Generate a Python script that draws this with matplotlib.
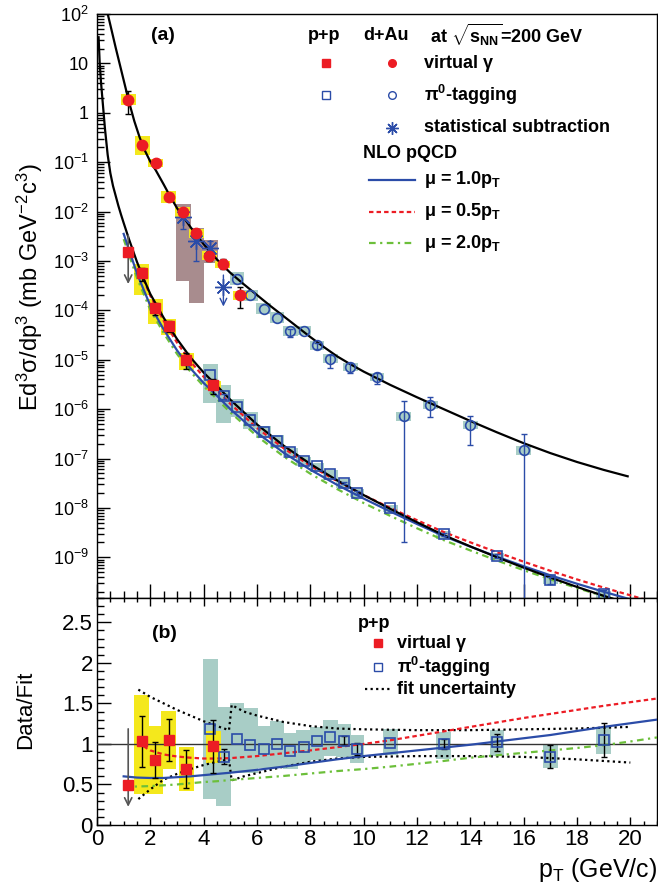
import numpy as np
import matplotlib
matplotlib.use("Agg")
import matplotlib.pyplot as plt
from matplotlib.patches import Rectangle
from matplotlib.ticker import MultipleLocator, FixedLocator, LogLocator, NullFormatter, FixedFormatter, FormatStrFormatter

plt.rcParams['font.family'] = ['Liberation Sans', 'DejaVu Sans']
plt.rcParams['mathtext.fontset'] = 'custom'
plt.rcParams['mathtext.rm'] = 'Liberation Sans'
plt.rcParams['mathtext.it'] = 'Liberation Sans:italic'
plt.rcParams['mathtext.bf'] = 'Liberation Sans:bold'

# ---------------- data ----------------
# p+p virtual photon (first point is an upper limit)
pp_vg_pt = [1.17, 1.67, 2.19, 2.69, 3.34, 4.36]
pp_vg_y = [1.5e-3, 5.6e-4, 1.12e-4, 4.9e-5, 1.0e-5, 3.1e-6]
pp_vg_ratio = [0.49, 1.03, 0.80, 1.05, 0.69, 0.97]
pp_vg_relerr = [0.0, 0.30, 0.28, 0.25, 0.34, 0.34]
pp_vg_sys_lo = [np.nan, 0.38, 0.38, 0.69, 0.42, 0.77]   # box edges in Data/Fit
pp_vg_sys_hi = [np.nan, 1.60, 1.22, 1.41, 0.96, 1.16]
pp_ul_top = [3.8e-3, 3.0e-4]
pp_ul_ratio = [1.22, 0.19]

# p+p pi0-tagging
pp_pi0_pt = [4.25, 4.75, 5.25, 5.75, 6.25, 6.75, 7.25, 7.75, 8.25, 8.75, 9.25, 9.75, 11.0, 13.0, 15.0, 17.0, 19.0]
pp_pi0_y = [4.8e-6, 1.82e-6, 1.13e-6, 6.1e-7, 3.5e-7, 2.3e-7, 1.33e-7, 8.9e-8, 6.9e-8, 4.8e-8, 3.2e-8, 2.04e-8,
            9.9e-9, 2.9e-9, 1.07e-9, 3.4e-10, 1.8e-10]
pp_pi0_ratio = [1.18, 0.84, 1.06, 0.99, 0.94, 1.00, 0.91, 0.96, 1.03, 1.09, 1.04, 0.94, 1.01, 1.00, 1.02, 0.84, 1.05]
pp_pi0_relerr = [0.0, 0.11, 0.0, 0.0, 0.0, 0.0, 0.0, 0.0, 0.0, 0.0, 0.055, 0.08, 0.0, 0.06, 0.10, 0.17, 0.20]
pp_pi0_sys_lo = [0.32, 0.24, 0.64, 0.64, 0.70, 0.70, 0.69, 0.75, 0.80, 0.85, 0.84, 0.77, 0.86, 0.82, 0.85, 0.70, 0.88]
pp_pi0_sys_hi = [2.05, 1.45, 1.50, 1.44, 1.22, 1.28, 1.13, 1.17, 1.21, 1.30, 1.24, 1.11, 1.19, 1.15, 1.17, 0.99, 1.21]

# d+Au virtual photon
dau_vg_pt = [1.17, 1.69, 2.20, 2.69, 3.21, 3.72, 4.21, 4.72, 5.37]
dau_vg_y = [1.83, 0.22, 0.095, 0.0195, 0.0096, 0.0036, 0.00127, 8.5e-4, 2.0e-4]
dau_vg_err_lo = [0.90, 0.0, 0.0, 0.0, 0.0, 0.0, 0.00025, 1.7e-4, 0.9e-4]
dau_vg_err_hi = [0.87, 0.0, 0.0, 0.0, 0.0, 0.0, 0.00025, 2.7e-4, 1.0e-4]
dau_vg_sys = [0.29, 0.55, 0.20, 0.32, 0.26, 0.23, 0.23, 0.17, 0.26]

# d+Au pi0-tagging
dau_pi0_pt = [5.25, 5.75, 6.25, 6.75, 7.25, 7.75, 8.25, 8.75, 9.5, 10.5, 11.5, 12.5, 14.0, 16.0]
dau_pi0_y = [4.4e-4, 2.0e-4, 1.09e-4, 7.1e-5, 3.8e-5, 3.9e-5, 1.95e-5, 1.05e-5, 7.2e-6, 4.4e-6, 7.1e-7, 1.23e-6,
             4.7e-7, 1.48e-7]
dau_pi0_err_lo = [0, 0, 0, 0, 8.5e-6, 0, 3e-6, 3.7e-6, 1.8e-6, 1.2e-6, 7.08e-7, 5.4e-7, 2.8e-7, 1.479e-7]
dau_pi0_err_hi = [0, 0, 0, 0, 3e-6, 0, 2e-6, 2.1e-6, 1.3e-6, 1.1e-6, 7.3e-7, 5.3e-7, 2.7e-7, 1.72e-7]
dau_pi0_sys = [0.35, 0.32, 0.30, 0.30, 0.28, 0.25, 0.25, 0.25, 0.22, 0.20, 0.23, 0.20, 0.20, 0.23]

# d+Au statistical subtraction
star_pt = [3.24, 3.72, 4.24]
star_y = [7.6e-3, 2.5e-3, 1.86e-3]
star_err_lo = [3.2e-3, 1.5e-3, 0.51e-3]
star_err_hi = [2.1e-3, 1.3e-3, 0.64e-3]
star_ul_pt = 4.74
star_ul_y = 2.95e-4
star_ul_range = [5.9e-4, 1.05e-4]
star_sys_pt = [3.24, 3.74, 4.27]
star_sys_lo = [4.0e-4, 1.38e-4, 9.1e-4]
star_sys_hi = [1.4e-2, 4.7e-3, 2.6e-3]

# fits (log10 of Ed3sigma/dp3)
pp_fit_pt = [0.06, 0.1, 0.15, 0.2, 0.3, 0.4, 0.5, 0.6, 0.7, 0.8, 0.9, 1.0, 1.2, 1.5, 1.75, 2.0, 2.5, 3.0, 3.5,
             4.0, 4.5, 5.0, 6, 7, 8, 9, 10, 11, 12, 13, 14, 15, 16, 17, 18, 19, 20, 21]
pp_fit_log = [1.53, 1.02, 0.62, 0.30, -0.33, -0.85, -1.22, -1.48, -1.68, -1.88, -2.06, -2.23, -2.56, -3.02, -3.36,
              -3.67, -4.15, -4.58, -4.95, -5.26, -5.53, -5.81, -6.31, -6.74, -7.11, -7.44, -7.74, -8.02, -8.29,
              -8.55, -8.78, -9.00, -9.21, -9.41, -9.60, -9.78, -9.95, -10.12]
dau_fit_pt = [0.38, 0.5, 0.6, 0.7, 0.8, 0.9, 1.0, 1.2, 1.4, 1.6, 1.8, 2.0, 2.2, 2.5, 2.7, 3.0, 3.2, 3.5, 3.7,
              4.0, 4.2, 4.5, 4.7, 5.0, 5.5, 6.0, 6.5, 7.0, 7.5, 8.0, 8.5, 9.0, 9.5, 10, 11, 12, 13, 14, 15, 16,
              17, 18, 19, 19.9]
dau_fit_log = [2.05, 1.78, 1.55, 1.32, 1.10, 0.88, 0.66, 0.22, -0.17, -0.50, -0.77, -0.99, -1.16, -1.45, -1.65,
               -1.93, -2.08, -2.31, -2.45, -2.66, -2.79, -2.97, -3.08, -3.24, -3.47, -3.69, -3.91, -4.12, -4.33,
               -4.54, -4.74, -4.93, -5.09, -5.24, -5.51, -5.76, -6.00, -6.24, -6.47, -6.69, -6.89, -7.07, -7.23,
               -7.36]

# NLO pQCD / fit
nlo_pt = [1.0, 1.5, 2.0, 2.5, 3.0, 3.5, 4.0, 4.5, 5.0, 6, 7, 8, 9, 10, 11, 12, 13, 14, 15, 16, 17, 18, 19, 20, 21]
nlo10_ratio = [0.60, 0.585, 0.58, 0.58, 0.59, 0.60, 0.615, 0.63, 0.645, 0.68, 0.72, 0.765, 0.81, 0.85, 0.885, 0.92,
               0.955, 0.99, 1.03, 1.07, 1.11, 1.16, 1.21, 1.255, 1.30]
nlo20_ratio = [0.47, 0.475, 0.48, 0.49, 0.50, 0.515, 0.53, 0.54, 0.555, 0.58, 0.605, 0.635, 0.665, 0.69, 0.72,
               0.755, 0.79, 0.83, 0.86, 0.89, 0.92, 0.95, 0.985, 1.03, 1.08]
nlo05_pt = [1.75, 2.0, 2.5, 3.0, 3.5, 4.0, 4.5, 5.0, 6, 7, 8, 9, 10, 11, 12, 13, 14, 15, 16, 17, 18, 19, 20, 21]
nlo05_ratio = [0.97, 0.92, 0.87, 0.845, 0.83, 0.82, 0.82, 0.825, 0.85, 0.885, 0.92, 0.96, 1.0, 1.045, 1.10, 1.155,
               1.21, 1.265, 1.32, 1.37, 1.42, 1.47, 1.515, 1.56]

# fit uncertainty band
unc_pt = [1.55, 2.0, 2.5, 3.0, 3.5, 4.0, 4.5, 4.95, 5.05, 5.5, 6, 7, 8, 9, 10, 12, 14, 16, 18, 20]
unc_hi = [1.67, 1.58, 1.50, 1.42, 1.35, 1.28, 1.22, 1.17, 1.48, 1.40, 1.35, 1.27, 1.22, 1.19, 1.18, 1.17, 1.17,
          1.18, 1.19, 1.21]
unc_lo = [0.32, 0.44, 0.56, 0.63, 0.69, 0.74, 0.78, 0.81, 0.55, 0.60, 0.64, 0.72, 0.78, 0.82, 0.84, 0.85, 0.85,
          0.84, 0.81, 0.77]

# ---------------- style ----------------
RED = '#ec1c24'
BLUE = '#2b4ca8'
GREEN = '#6cbf3a'
YELLOW = '#f4e81c'
TEAL = '#a8cdc6'
MAUVE = '#a88c8e'
GREY = '#555555'
HALF = 0.28

W, H = 658, 890
fig = plt.figure(figsize=(W / 100, H / 100), dpi=100)
ax1 = fig.add_axes([97 / W, 1 - 598 / H, 560 / W, 584 / H])
ax2 = fig.add_axes([97 / W, 1 - 825 / H, 560 / W, 227 / H])


def px(x, y):
    return x / W, 1 - y / H


def boxes(ax, xs, lo, hi, color, z=1):
    for x, l, h in zip(xs, lo, hi):
        if np.isnan(l):
            continue
        ax.add_patch(Rectangle((x - HALF, l), 2 * HALF, h - l, facecolor=color, edgecolor='none', zorder=z))


def errbars(ax, xs, ys, lo, hi, color, z):
    xs, ys, lo, hi = (np.asarray(v, dtype=float) for v in (xs, ys, lo, hi))
    m = (lo > 0) | (hi > 0)
    ax.errorbar(xs[m], ys[m], yerr=[lo[m], hi[m]], fmt='none', ecolor=color, elinewidth=1, capsize=2, zorder=z)


fit_lookup = dict(zip(pp_fit_pt, pp_fit_log))
pp_vg_y = np.array(pp_vg_y)
pp_vg_ratio = np.array(pp_vg_ratio)
pp_pi0_y = np.array(pp_pi0_y)
pp_pi0_ratio = np.array(pp_pi0_ratio)

# ---------------- panel (a) ----------------
ax = ax1
ax.set_yscale('log')
boxes(ax, pp_pi0_pt, pp_pi0_y * np.array(pp_pi0_sys_lo) / pp_pi0_ratio,
      pp_pi0_y * np.array(pp_pi0_sys_hi) / pp_pi0_ratio, TEAL)
dy = np.array(dau_pi0_y)
ds = np.array(dau_pi0_sys)
boxes(ax, dau_pi0_pt, dy / (1 + ds), dy * (1 + ds), TEAL)
boxes(ax, star_sys_pt, star_sys_lo, star_sys_hi, MAUVE)
boxes(ax, pp_vg_pt, pp_vg_y * np.array(pp_vg_sys_lo) / pp_vg_ratio,
      pp_vg_y * np.array(pp_vg_sys_hi) / pp_vg_ratio, YELLOW, z=2)
dy = np.array(dau_vg_y)
ds = np.array(dau_vg_sys)
boxes(ax, dau_vg_pt, dy / (1 + ds), dy * (1 + ds), YELLOW, z=2)

nlo10_top = [10 ** fit_lookup[p] * r for p, r in zip(nlo_pt, nlo10_ratio)]
nlo20_top = [10 ** fit_lookup[p] * r for p, r in zip(nlo_pt, nlo20_ratio)]
nlo05_top = [10 ** fit_lookup[p] * r for p, r in zip(nlo05_pt, nlo05_ratio)]
ax.plot(nlo_pt, nlo20_top, color=GREEN, lw=1.6, dashes=(3, 2, 1, 2), zorder=3)
ax.plot(nlo05_pt, nlo05_top, color=RED, lw=1.6, dashes=(2, 1.4), zorder=3)
ax.plot(nlo_pt, nlo10_top, color=BLUE, lw=1.6, zorder=3)
ax.plot(pp_fit_pt, 10 ** np.array(pp_fit_log), color='k', lw=1.6, zorder=4)
ax.plot(dau_fit_pt, 10 ** np.array(dau_fit_log), color='k', lw=1.6, zorder=4)

# p+p pi0
e = pp_pi0_y * np.array(pp_pi0_relerr)
errbars(ax, pp_pi0_pt, pp_pi0_y, e, e, BLUE, 5)
ax.plot(pp_pi0_pt, pp_pi0_y, 's', ms=6.5, mfc='none', mec=BLUE, mew=1.2, zorder=6)
# d+Au pi0
errbars(ax, dau_pi0_pt, dau_pi0_y, dau_pi0_err_lo, dau_pi0_err_hi, BLUE, 5)
ax.plot(dau_pi0_pt, dau_pi0_y, 'o', ms=7, mfc='none', mec=BLUE, mew=1.2, zorder=6)
# statistical subtraction
errbars(ax, star_pt, star_y, star_err_lo, star_err_hi, BLUE, 5)
ax.plot(star_pt + [star_ul_pt], star_y + [star_ul_y], ls='none', marker=(8, 2, 0), ms=12, mec=BLUE, mew=1.0,
        zorder=6)
ax.annotate('', xy=(star_ul_pt, star_ul_range[1]), xytext=(star_ul_pt, star_ul_range[0]),
            arrowprops=dict(arrowstyle='->', color=BLUE, lw=1.0, mutation_scale=12), zorder=5)
# p+p virtual photon
e = pp_vg_y * np.array(pp_vg_relerr)
errbars(ax, pp_vg_pt, pp_vg_y, e, e, 'k', 7)
ax.annotate('', xy=(pp_vg_pt[0], pp_ul_top[1]), xytext=(pp_vg_pt[0], pp_ul_top[0]),
            arrowprops=dict(arrowstyle='->', color=GREY, lw=1.2, mutation_scale=13), zorder=7)
ax.plot(pp_vg_pt, pp_vg_y, 's', ms=6.5, color=RED, zorder=8)
# d+Au virtual photon
errbars(ax, dau_vg_pt, dau_vg_y, dau_vg_err_lo, dau_vg_err_hi, 'k', 7)
ax.plot(dau_vg_pt, dau_vg_y, 'o', ms=7.5, color=RED, zorder=8)

ax.set_xlim(0, 21)
ax.set_ylim(1.5e-10, 100)
ax.xaxis.set_major_locator(MultipleLocator(2))
ax.xaxis.set_minor_locator(MultipleLocator(0.5))
ax.set_xticklabels([])
dec = list(range(2, -10, -1))
ax.yaxis.set_major_locator(FixedLocator([10.0 ** d for d in dec]))
ax.yaxis.set_major_formatter(FixedFormatter(['$10^{%d}$' % d if d not in (0, 1) else str(10 ** d) for d in dec]))
ax.yaxis.set_minor_locator(LogLocator(base=10, subs=np.arange(2, 10), numticks=30))
ax.yaxis.set_minor_formatter(NullFormatter())
ax.tick_params(axis='both', which='both', direction='in', top=False, right=False)
ax.tick_params(axis='x', which='major', length=10, width=1)
ax.tick_params(axis='x', which='minor', length=5, width=1)
ax.tick_params(axis='y', which='major', length=9.5, width=1, labelsize=13, pad=6)
ax.tick_params(axis='y', which='minor', length=5, width=1)
ax.set_ylabel(r'Ed$^{3}$σ/dp$^{3}$ (mb GeV$^{-2}$c$^{3}$)', fontsize=17, va='center')
ax.yaxis.set_label_coords(-0.12, 0.533)

# ---------------- panel (b) ----------------
ax = ax2
boxes(ax, pp_pi0_pt, pp_pi0_sys_lo, pp_pi0_sys_hi, TEAL)
boxes(ax, pp_vg_pt, pp_vg_sys_lo, pp_vg_sys_hi, YELLOW, z=2)
ax.axhline(1.0, color='#333333', lw=1.0, zorder=3)
ax.plot(unc_pt, unc_hi, color='k', lw=1.6, ls=(0, (1, 1.5)), zorder=4)
ax.plot(unc_pt, unc_lo, color='k', lw=1.6, ls=(0, (1, 1.5)), zorder=4)
ax.plot(nlo_pt, nlo20_ratio, color=GREEN, lw=1.6, dashes=(3, 2, 1, 2), zorder=4)
ax.plot(nlo05_pt, nlo05_ratio, color=RED, lw=1.6, dashes=(2, 1.4), zorder=4)
ax.plot(nlo_pt, nlo10_ratio, color=BLUE, lw=1.6, zorder=4)

e = pp_pi0_ratio * np.array(pp_pi0_relerr)
errbars(ax, pp_pi0_pt, pp_pi0_ratio, e, e, 'k', 5)
ax.plot(pp_pi0_pt, pp_pi0_ratio, 's', ms=7, mfc='none', mec=BLUE, mew=1.2, zorder=6)
e = pp_vg_ratio * np.array(pp_vg_relerr)
errbars(ax, pp_vg_pt, pp_vg_ratio, e, e, 'k', 7)
ax.annotate('', xy=(pp_vg_pt[0], pp_ul_ratio[1]), xytext=(pp_vg_pt[0], pp_ul_ratio[0]),
            arrowprops=dict(arrowstyle='->', color=GREY, lw=1.2, mutation_scale=13), zorder=7)
ax.plot(pp_vg_pt, pp_vg_ratio, 's', ms=7, color=RED, zorder=8)

ax.set_xlim(0, 21)
ax.set_ylim(0, 2.8)
ax.xaxis.set_major_locator(MultipleLocator(2))
ax.xaxis.set_minor_locator(MultipleLocator(0.5))
ax.yaxis.set_major_locator(MultipleLocator(0.5))
ax.yaxis.set_minor_locator(MultipleLocator(0.1))
ax.yaxis.set_major_formatter(FormatStrFormatter('%g'))
ax.tick_params(axis='both', which='both', direction='in', top=True, right=False)
ax.tick_params(axis='x', which='major', length=6, width=1, labelsize=16, pad=3)
ax.tick_params(axis='x', which='minor', length=3, width=1)
ax.tick_params(axis='y', which='major', length=10, width=1, labelsize=16, pad=3)
ax.tick_params(axis='y', which='minor', length=5, width=1)
ax.set_ylabel('Data/Fit', fontsize=16, va='center')
ax.yaxis.set_label_coords(-0.127, 0.507)
ax.set_xlabel(r'p$_{\rm T}$ (GeV/c)', fontsize=18, loc='right', labelpad=4)

for a in (ax1, ax2):
    for s in a.spines.values():
        s.set_linewidth(1.0)

# ---------------- legends / labels ----------------
LF = 13
T = fig.transFigure
fig.text(*px(163, 35), '(a)', fontsize=14, fontweight='bold', ha='center', va='center')
fig.text(*px(308, 35), 'p+p', fontsize=LF, fontweight='bold', va='center')
fig.text(*px(363, 35), 'd+Au', fontsize=LF, fontweight='bold', va='center')
fig.text(*px(430, 35), r'at $\sqrt{\mathbf{s}_{\mathbf{NN}}}$=200 GeV', fontsize=LF, fontweight='bold', va='center')
fig.lines.append(plt.Line2D([326 / W], [1 - 63 / H], marker='s', ms=5.5, color=RED, transform=T))
fig.lines.append(plt.Line2D([392 / W], [1 - 63 / H], marker='o', ms=5.5, color=RED, transform=T))
fig.text(*px(424, 63), 'virtual γ', fontsize=LF, fontweight='bold', va='center')
fig.lines.append(plt.Line2D([326 / W], [1 - 95 / H], marker='s', ms=5.5, mfc='none', mec=BLUE, mew=1.0, transform=T))
fig.lines.append(plt.Line2D([392 / W], [1 - 95 / H], marker='o', ms=5.5, mfc='none', mec=BLUE, mew=1.0, transform=T))
fig.text(*px(424, 95), r'π$^{\mathbf{0}}$-tagging', fontsize=LF, fontweight='bold', va='center')
fig.lines.append(plt.Line2D([392 / W], [1 - 128 / H], marker=(8, 2, 0), ms=9, mec=BLUE, mew=1.0, transform=T))
fig.text(*px(424, 128), 'statistical subtraction', fontsize=LF, fontweight='bold', va='center')
fig.text(*px(363, 153), 'NLO pQCD', fontsize=LF, fontweight='bold', va='center')
for yy, col, dsh, lab in [(180, BLUE, None, '1.0'), (212, RED, (2, 1.4), '0.5'), (243, GREEN, (3, 2, 1, 2), '2.0')]:
    ln = plt.Line2D([369 / W, 415 / W], [1 - yy / H, 1 - yy / H], color=col, lw=1.6, transform=T)
    if dsh:
        ln.set_dashes(dsh)
    fig.lines.append(ln)
    fig.text(*px(424, yy), r'μ = %sp$_{\mathbf{T}}$' % lab, fontsize=LF, fontweight='bold', va='center')

fig.text(*px(164, 633), '(b)', fontsize=14, fontweight='bold', ha='center', va='center')
fig.text(*px(358, 623), 'p+p', fontsize=LF, fontweight='bold', va='center')
fig.lines.append(plt.Line2D([378 / W], [1 - 643 / H], marker='s', ms=5.5, color=RED, transform=T))
fig.text(*px(397, 643), 'virtual γ', fontsize=LF, fontweight='bold', va='center')
fig.lines.append(plt.Line2D([378 / W], [1 - 667 / H], marker='s', ms=5.5, mfc='none', mec=BLUE, mew=1.0, transform=T))
fig.text(*px(397, 667), r'π$^{\mathbf{0}}$-tagging', fontsize=LF, fontweight='bold', va='center')
fig.lines.append(plt.Line2D([365 / W, 390 / W], [1 - 689 / H, 1 - 689 / H], color='k', lw=1.6, ls=(0, (1, 1.5)),
                            transform=T))
fig.text(*px(397, 689), 'fit uncertainty', fontsize=LF, fontweight='bold', va='center')

fig.savefig('out.png', dpi=100)
